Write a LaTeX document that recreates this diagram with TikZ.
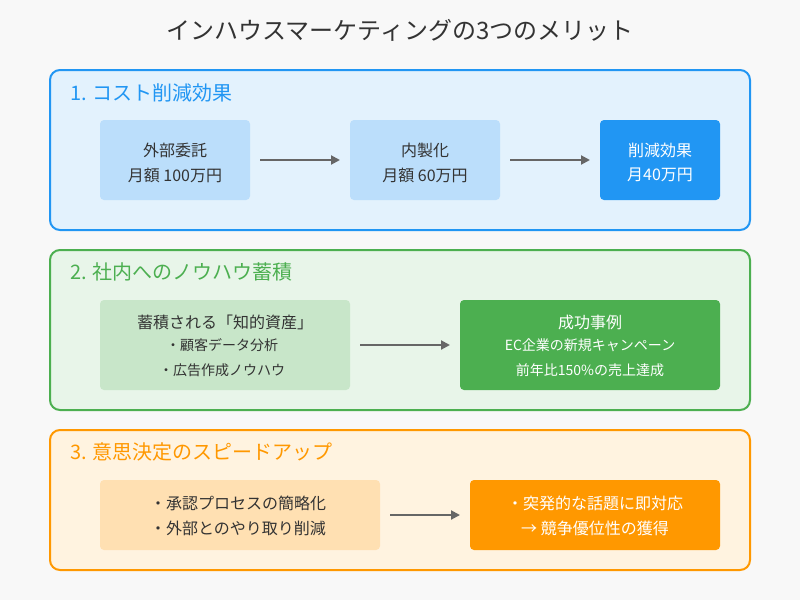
\documentclass[tikz,border=0pt]{standalone}
\usepackage{fontspec}
\setmainfont{Noto Sans CJK JP}
\usetikzlibrary{arrows.meta}
\definecolor{bgc}{HTML}{F8F8F8}
\definecolor{txt}{HTML}{333333}
\definecolor{blueS}{HTML}{2196F3}
\definecolor{blueF}{HTML}{E3F2FD}
\definecolor{blueB}{HTML}{BBDEFB}
\definecolor{greenS}{HTML}{4CAF50}
\definecolor{greenF}{HTML}{E8F5E9}
\definecolor{greenB}{HTML}{C8E6C9}
\definecolor{orS}{HTML}{FF9800}
\definecolor{orF}{HTML}{FFF3E0}
\definecolor{orB}{HTML}{FFE0B2}
\definecolor{arr}{HTML}{666666}
\tikzset{
  panel/.style={draw=#1, line width=2pt, rounded corners=10pt},
  ptitle/.style={anchor=west, font=\fontsize{20}{24}\selectfont, inner sep=0pt},
  box/.style={rounded corners=4pt, draw=none},
  btext/.style={font=\fontsize{16}{19}\selectfont, text=txt, inner sep=0pt},
  stext/.style={font=\fontsize{14}{17}\selectfont, text=txt, inner sep=0pt},
  conn/.style={draw=arr, line width=2pt, -{Triangle[length=9pt,width=9pt]}}
}
\begin{document}
\begin{tikzpicture}[x=1pt,y=-1pt]
\fill[bgc] (0,0) rectangle (800,600);
\useasboundingbox (0,0) rectangle (800,600);
\node[font=\fontsize{24}{28}\selectfont, text=txt] (title) at (400,30) {インハウスマーケティングの3つのメリット};

% Panel 1
\path[panel=blueS, fill=blueF] (50,70) rectangle (750,230);
\node[ptitle, text=blueS] (t1) at (70,93) {1. コスト削減効果};
\path[box, fill=blueB] (100,120) rectangle (250,200);
\path[box, fill=blueB] (350,120) rectangle (500,200);
\path[box, fill=blueS] (600,120) rectangle (720,200);
\node[btext] (b1a) at (175,150) {外部委託};
\node[btext] (b1b) at (175,175) {月額 100万円};
\node[btext] (b2a) at (425,150) {内製化};
\node[btext] (b2b) at (425,175) {月額 60万円};
\node[btext, text=white] (b3a) at (660,150) {削減効果};
\node[btext, text=white] (b3b) at (660,175) {月40万円};
\coordinate (a1s) at (260,160); \coordinate (a1e) at (340,160);
\coordinate (a2s) at (510,160); \coordinate (a2e) at (590,160);
\draw[conn] (a1s) -- (a1e);
\draw[conn] (a2s) -- (a2e);

% Panel 2
\path[panel=greenS, fill=greenF] (50,250) rectangle (750,410);
\node[ptitle, text=greenS] (t2) at (70,272) {2. 社内へのノウハウ蓄積};
\path[box, fill=greenB] (100,300) rectangle (350,390);
\path[box, fill=greenS] (460,300) rectangle (720,390);
\node[btext] (c1a) at (225,322) {蓄積される「知的資産」};
\node[stext] (c1b) at (222,345) {・顧客データ分析};
\node[stext] (c1c) at (222,370) {・広告作成ノウハウ};
\node[btext, text=white] (c2a) at (590,322) {成功事例};
\node[stext, text=white] (c2b) at (590,345) {EC企業の新規キャンペーン};
\node[stext, text=white] (c2c) at (590,370) {前年比150\%の売上達成};
\coordinate (a3s) at (360,345); \coordinate (a3e) at (450,345);
\draw[conn] (a3s) -- (a3e);

% Panel 3
\path[panel=orS, fill=orF] (50,430) rectangle (750,570);
\node[ptitle, text=orS] (t3) at (70,452) {3. 意思決定のスピードアップ};
\path[box, fill=orB] (100,480) rectangle (380,550);
\path[box, fill=orS] (470,480) rectangle (720,550);
\node[btext] (d1a) at (238,503) {・承認プロセスの簡略化};
\node[btext] (d1b) at (238,528) {・外部とのやり取り削減};
\node[btext, text=white] (d2a) at (595,503) {・突発的な話題に即対応};
\node[btext, text=white] (d2b) at (595,528) {→ 競争優位性の獲得};
\coordinate (a4s) at (390,515); \coordinate (a4e) at (460,515);
\draw[conn] (a4s) -- (a4e);
\end{tikzpicture}
\end{document}
